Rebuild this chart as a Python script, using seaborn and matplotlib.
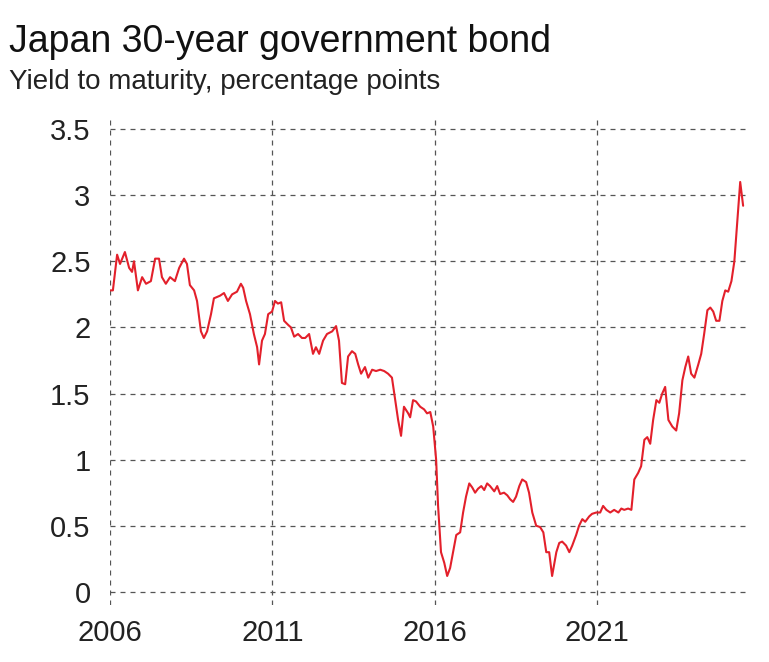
import matplotlib
matplotlib.use("Agg")
import matplotlib.pyplot as plt
import seaborn as sns
import numpy as np
import pandas as pd

# ---------------- Data ----------------
years_since_2006 = [
    0.00, 0.09, 0.22, 0.31, 0.46, 0.59, 0.68, 0.74, 0.86, 0.99,
    1.11, 1.26, 1.39, 1.51, 1.60, 1.72, 1.85, 2.00, 2.13, 2.28,
    2.37, 2.46, 2.59, 2.68, 2.80, 2.89, 2.99, 3.11, 3.20, 3.39,
    3.51, 3.63, 3.76, 3.91, 4.03, 4.10, 4.19, 4.31, 4.43, 4.53,
    4.59, 4.68, 4.77, 4.87, 4.99, 5.08, 5.17, 5.27, 5.36, 5.48,
    5.57, 5.67, 5.79, 5.91, 6.01, 6.13, 6.25, 6.34, 6.44, 6.56,
    6.68, 6.84, 6.96, 7.05, 7.14, 7.24, 7.33, 7.45, 7.55, 7.64,
    7.73, 7.85, 7.95, 8.07, 8.19, 8.32, 8.44, 8.56, 8.68, 8.78,
    8.87, 8.96, 9.05, 9.18, 9.24, 9.33, 9.42, 9.55, 9.67, 9.76,
    9.86, 9.95, 10.04, 10.10, 10.19, 10.29, 10.38, 10.47, 10.56, 10.66,
    10.78, 10.87, 10.96, 11.06, 11.15, 11.24, 11.33, 11.43, 11.52, 11.61,
    11.70, 11.83, 11.92, 12.01, 12.13, 12.23, 12.32, 12.41, 12.50, 12.60,
    12.69, 12.81, 12.90, 13.00, 13.12, 13.24, 13.34, 13.43, 13.52, 13.61,
    13.74, 13.83, 13.92, 14.04, 14.14, 14.23, 14.35, 14.44, 14.54, 14.63,
    14.75, 14.84, 14.97, 15.09, 15.18, 15.28, 15.40, 15.52, 15.65, 15.74,
    15.83, 15.95, 16.05, 16.14, 16.26, 16.35, 16.45, 16.54, 16.63, 16.72,
    16.82, 16.91, 17.00, 17.09, 17.19, 17.31, 17.43, 17.52, 17.62, 17.71,
    17.80, 17.89, 17.99, 18.11, 18.20, 18.29, 18.39, 18.48, 18.57, 18.66,
    18.76, 18.85, 18.94, 19.03, 19.13, 19.22, 19.31, 19.40, 19.49,
]
yield_pct = [
    2.28, 2.28, 2.55, 2.48, 2.57, 2.45, 2.42, 2.50, 2.28, 2.38,
    2.33, 2.35, 2.52, 2.52, 2.38, 2.33, 2.38, 2.35, 2.45, 2.52,
    2.48, 2.32, 2.28, 2.20, 1.97, 1.92, 1.97, 2.10, 2.22, 2.24,
    2.26, 2.20, 2.25, 2.27, 2.33, 2.30, 2.20, 2.10, 1.95, 1.85,
    1.72, 1.90, 1.95, 2.10, 2.12, 2.20, 2.18, 2.19, 2.05, 2.02,
    2.00, 1.93, 1.95, 1.92, 1.92, 1.95, 1.80, 1.85, 1.80, 1.90,
    1.95, 1.97, 2.01, 1.90, 1.58, 1.57, 1.78, 1.82, 1.80, 1.72,
    1.65, 1.70, 1.62, 1.68, 1.67, 1.68, 1.67, 1.65, 1.62, 1.45,
    1.30, 1.18, 1.40, 1.35, 1.32, 1.45, 1.44, 1.40, 1.38, 1.35,
    1.36, 1.25, 1.00, 0.65, 0.30, 0.22, 0.12, 0.18, 0.30, 0.43,
    0.45, 0.60, 0.72, 0.82, 0.79, 0.75, 0.78, 0.80, 0.77, 0.82,
    0.80, 0.76, 0.80, 0.74, 0.75, 0.73, 0.70, 0.68, 0.72, 0.80,
    0.85, 0.83, 0.75, 0.60, 0.50, 0.49, 0.45, 0.30, 0.30, 0.12,
    0.30, 0.37, 0.38, 0.35, 0.30, 0.35, 0.43, 0.50, 0.55, 0.53,
    0.57, 0.59, 0.60, 0.60, 0.65, 0.62, 0.60, 0.62, 0.60, 0.63,
    0.62, 0.63, 0.62, 0.85, 0.90, 0.95, 1.15, 1.17, 1.12, 1.30,
    1.45, 1.43, 1.50, 1.55, 1.30, 1.25, 1.22, 1.35, 1.60, 1.70,
    1.78, 1.65, 1.62, 1.72, 1.80, 1.95, 2.13, 2.15, 2.12, 2.05,
    2.05, 2.20, 2.28, 2.27, 2.35, 2.50, 2.80, 3.10, 2.92,
]
x_ticks = [2006, 2011, 2016, 2021]
y_ticks = [0, 0.5, 1, 1.5, 2, 2.5, 3, 3.5]
y_tick_labels = ["0", "0.5", "1", "1.5", "2", "2.5", "3", "3.5"]

df = pd.DataFrame({"year": 2006 + np.array(years_since_2006), "yield": yield_pct})

# ---------------- Plot ----------------
sns.set_style("white")
plt.rcParams["font.family"] = ["Liberation Sans Narrow", "Liberation Sans", "DejaVu Sans"]
fig = plt.figure(figsize=(7.69, 6.62), dpi=100)
ax = fig.add_axes([0.143, 0.086, 0.828, 0.739])

sns.lineplot(data=df, x="year", y="yield", ax=ax, color="#e3202b", linewidth=1.5)

ax.set_xlim(2006, 2025.6)
ax.set_ylim(-0.1, 3.6)
ax.set_xticks(x_ticks)
ax.set_yticks(y_ticks)
ax.set_yticklabels(y_tick_labels)
ax.grid(True, color="#555555", linestyle=(0, (4, 4)), linewidth=0.9)
for s in ax.spines.values():
    s.set_visible(False)
ax.tick_params(axis="both", length=0, labelsize=21, colors="#222222")
ax.tick_params(axis="y", pad=14)
ax.tick_params(axis="x", pad=10)
ax.set_xlabel("")
ax.set_ylabel("")

fig.text(0.012, 0.922, "Japan 30-year government bond", fontsize=27,
         fontfamily="Liberation Sans", fontweight="medium",
         color="#111111", va="baseline")
fig.text(0.012, 0.866, "Yield to maturity, percentage points", fontsize=20,
         fontfamily="Liberation Sans", color="#222222", va="baseline")

fig.savefig("out.png", dpi=100)
